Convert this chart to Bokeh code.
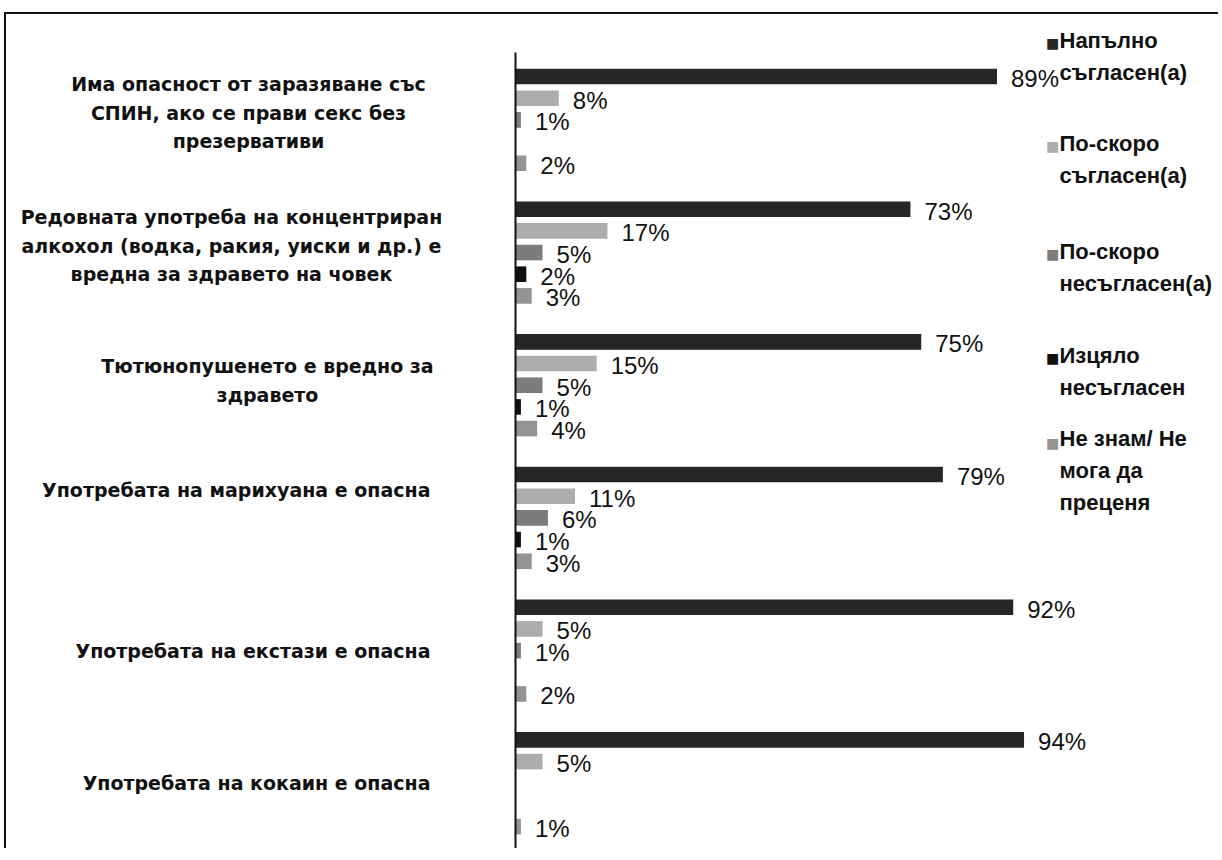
from bokeh.plotting import figure
from bokeh.models import ColumnDataSource, Label, Range1d
from bokeh.core.properties import value
from bokeh.embed import file_html
from bokeh.resources import INLINE

# ---------------- data ----------------
categories = [
    "Има опасност от заразяване със\nСПИН, ако се прави секс без\nпрезервативи",
    "Редовната употреба на концентриран\nалкохол (водка, ракия, уиски и др.) е\nвредна за здравето на човек",
    "Тютюнопушенето е вредно за\nздравето",
    "Употребата на марихуана е опасна",
    "Употребата на екстази е опасна",
    "Употребата на кокаин е опасна",
]
series = [
    "Напълно\nсъгласен(а)",
    "По-скоро\nсъгласен(а)",
    "По-скоро\nнесъгласен(а)",
    "Изцяло\nнесъгласен",
    "Не знам/ Не\nмога да\nпреценя",
]
fully_agree = [89, 73, 75, 79, 92, 94]
rather_agree = [8, 17, 15, 11, 5, 5]
rather_disagree = [1, 5, 5, 6, 1, 0]
fully_disagree = [0, 2, 1, 1, 0, 0]
dont_know = [2, 3, 4, 3, 2, 1]
series_values = [fully_agree, rather_agree, rather_disagree, fully_disagree, dont_know]

# ---------------- layout / style ----------------
colors = ["#262626", "#acacac", "#7c7c7c", "#101010", "#939393"]
W, H = 1214, 836
OX, OY = 6, 14            # image position of canvas origin (margin + border)
AXIS_X = 515              # image x of value 0
PX_PER_PCT = 5.41
GROUP_GAP = 1.12          # extra slots between groups
FIRST_BAR_Y = 76          # image y of the first bar centre
PX_PER_SLOT = 21.68
AXIS_TOP_Y = 52

pitch = len(series) + GROUP_GAP


def slot_pos(gi, si):
    return -(gi * pitch + si)


x_start = -(AXIS_X - OX) / PX_PER_PCT
x_end = (OX + W - AXIS_X) / PX_PER_PCT
y_top = (FIRST_BAR_Y - OY) / PX_PER_SLOT
y_bottom = -(OY + H - FIRST_BAR_Y) / PX_PER_SLOT
axis_top = (FIRST_BAR_Y - AXIS_TOP_Y) / PX_PER_SLOT

ys, vals, cols, texts = [], [], [], []
for ci, c in enumerate(categories):
    for si, s in enumerate(series):
        v = series_values[si][ci]
        if v > 0:
            ys.append(slot_pos(ci, si))
            vals.append(v)
            cols.append(colors[si])
            texts.append(f"{v}%")
src = ColumnDataSource(dict(y=ys, v=vals, c=cols, t=texts))

p = figure(
    width=W, height=H,
    x_range=Range1d(x_start, x_end),
    y_range=Range1d(y_bottom, y_top),
    x_axis_location=None,
    y_axis_location="left",
    toolbar_location=None,
    output_backend="svg",
    min_border=0,
)
p.styles = {"margin-left": "4px", "margin-top": "12px",
            "border-top": "2px solid #111", "border-left": "2px solid #111"}
p.outline_line_color = None
p.xgrid.visible = False
p.ygrid.visible = False
p.background_fill_color = "white"
p.border_fill_color = "white"

ax = p.yaxis[0]
ax.fixed_location = 0
ax.bounds = (y_bottom, axis_top)
ax.axis_line_color = "#111111"
ax.axis_line_width = 2
ax.major_tick_line_color = None
ax.minor_tick_line_color = None
ax.major_tick_out = 0
ax.major_tick_in = 0
ax.minor_tick_out = 0
ax.minor_tick_in = 0
ax.major_label_standoff = 0
ax.major_label_text_font_size = "0px"
ax.major_label_text_color = None

p.hbar(y="y", left=0, right="v", height=0.72, fill_color="c", line_color=None, source=src)
p.text(x="v", y="y", text="t", source=src, x_offset=14, y_offset=2,
       text_baseline="middle", text_align="left",
       text_font=value("Liberation Sans"), text_font_size="24px", text_color="#111111")

# category labels: anchored at each group's centre, nudged in pixels
cat_x_img = [248, 231, 267, 430, 430, 430]
cat_align = ["center", "center", "center", "right", "right", "right"]
cat_dy = [-7, -7, -5, -28, 0, 0]
lab_src = ColumnDataSource(dict(
    x=[0] * len(categories),
    y=[slot_pos(ci, (len(series) - 1) / 2) for ci in range(len(categories))],
    t=categories,
    xo=[ix - AXIS_X for ix in cat_x_img],
    yo=cat_dy,
    al=cat_align,
))
p.text(x="x", y="y", text="t", x_offset="xo", y_offset="yo", text_align="al",
       text_baseline="middle", source=lab_src,
       text_font=value("DejaVu Sans"), text_font_style="bold",
       text_font_size="19px", text_line_height=1.3, text_color="#111111")


# legend (manual, screen units relative to the frame)
def sx(ix):
    return ix - OX


def sy(iy):
    return (OY + H) - iy


leg_first_line = [42, 145, 253, 357, 442]
line_h = 28
for s, col, iy0 in zip(series, colors, leg_first_line):
    n = s.count("\n") + 1
    cy = iy0 + (n - 1) * line_h / 2
    p.add_layout(Label(x=sx(1059), y=sy(cy), x_units="screen", y_units="screen",
                       text=s, text_align="left", text_baseline="middle",
                       text_font="Liberation Sans", text_font_style="bold",
                       text_font_size="22px", text_line_height=line_h / 22,
                       text_color="#111111"))
    p.add_layout(Label(x=sx(1052), y=sy(iy0), x_units="screen", y_units="screen",
                       text="■", text_align="center", text_baseline="middle",
                       text_font="DejaVu Sans", text_font_size="14px",
                       text_color=col))

open("out.html", "w").write(file_html(p, INLINE))
